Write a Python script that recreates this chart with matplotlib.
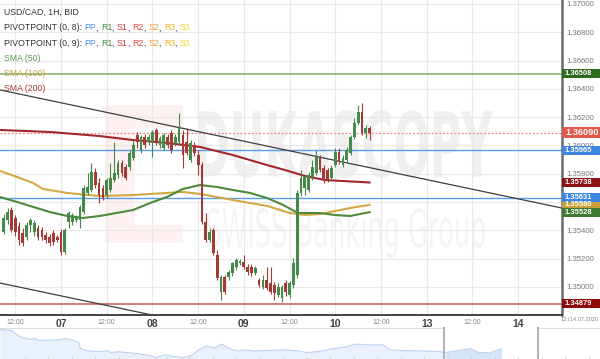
import numpy as np
import matplotlib
matplotlib.use("Agg")
import matplotlib.pyplot as plt
from matplotlib.patches import Rectangle, PathPatch
from matplotlib.textpath import TextPath
from matplotlib.font_manager import FontProperties
from matplotlib import transforms as mtrans

plt.rcParams['font.family'] = ['Liberation Sans', 'DejaVu Sans']

# ---------------------------------------------------------------- data
title = "USD/CAD, 1H, BID"
# candle times: hours relative to 07.07.2020 00:00 (weekend compressed)
candle_start_hour = -15

opens = [1.35388, 1.35473, 1.35543, 1.35487, 1.35430, 1.35381, 1.35352, 1.35437, 1.35388, 1.35416,
         1.35402, 1.35367, 1.35352, 1.35381, 1.35352, 1.35388, 1.35246, 1.35459, 1.35459, 1.35473,
         1.35473, 1.35529, 1.35664, 1.35685, 1.35812, 1.35734, 1.35699, 1.35649, 1.35685, 1.35755,
         1.35791, 1.35876, 1.35847, 1.35847, 1.35911, 1.36074, 1.35968, 1.36059, 1.36024, 1.36024,
         1.36109, 1.36003, 1.35982, 1.36059, 1.36088, 1.36017, 1.36024, 1.36074, 1.36024, 1.35897,
         1.36003, 1.35932, 1.35861, 1.35459, 1.35331, 1.35402, 1.35225, 1.34964, 1.35070, 1.35070,
         1.35098, 1.35140, 1.35169, 1.35176, 1.35140, 1.35140, 1.35098, 1.35048, 1.34999, 1.35048,
         1.35027, 1.35013, 1.34942, 1.34921, 1.35027, 1.34942, 1.35013, 1.35084, 1.35664, 1.35699,
         1.35685, 1.35777, 1.35805, 1.35911, 1.35840, 1.35826, 1.35770, 1.35861, 1.35953, 1.35861,
         1.35897, 1.35946, 1.36059, 1.36158, 1.36236, 1.36088, 1.36123]
highs = [1.35515, 1.35557, 1.35565, 1.35508, 1.35459, 1.35416, 1.35459, 1.35487, 1.35473, 1.35437,
         1.35423, 1.35388, 1.35374, 1.35402, 1.35367, 1.35409, 1.35416, 1.35536, 1.35522, 1.35508,
         1.35579, 1.35720, 1.35805, 1.35876, 1.35840, 1.35770, 1.35720, 1.35770, 1.35876, 1.36024,
         1.35897, 1.35897, 1.35869, 1.35968, 1.36038, 1.36095, 1.36074, 1.36081, 1.36081, 1.36109,
         1.36123, 1.36066, 1.36088, 1.36081, 1.36109, 1.36081, 1.36229, 1.36109, 1.36123, 1.36038,
         1.36024, 1.35968, 1.35883, 1.35522, 1.35416, 1.35416, 1.35260, 1.35084, 1.35084, 1.35119,
         1.35176, 1.35204, 1.35197, 1.35225, 1.35162, 1.35162, 1.35147, 1.35063, 1.35084, 1.35140,
         1.35140, 1.35034, 1.35027, 1.35013, 1.35048, 1.35041, 1.35204, 1.35685, 1.35826, 1.35791,
         1.35812, 1.35897, 1.35968, 1.35932, 1.35861, 1.35840, 1.35861, 1.35982, 1.35982, 1.35932,
         1.35989, 1.36074, 1.36194, 1.36286, 1.36300, 1.36144, 1.36137]
lows = [1.35374, 1.35444, 1.35388, 1.35359, 1.35296, 1.35289, 1.35331, 1.35388, 1.35359, 1.35331,
        1.35331, 1.35310, 1.35289, 1.35296, 1.35317, 1.35225, 1.35232, 1.35416, 1.35437, 1.35459,
        1.35416, 1.35515, 1.35649, 1.35671, 1.35699, 1.35593, 1.35614, 1.35628, 1.35671, 1.35741,
        1.35770, 1.35784, 1.35755, 1.35826, 1.35897, 1.35982, 1.35946, 1.35982, 1.36003, 1.35918,
        1.36003, 1.35982, 1.35968, 1.35982, 1.35946, 1.35996, 1.36010, 1.35840, 1.35932, 1.35883,
        1.35925, 1.35791, 1.35444, 1.35317, 1.35317, 1.35225, 1.35048, 1.34907, 1.34949, 1.35048,
        1.35077, 1.35119, 1.35154, 1.35126, 1.35084, 1.35077, 1.35084, 1.34999, 1.34985, 1.34978,
        1.34949, 1.34907, 1.34928, 1.34893, 1.34935, 1.34921, 1.34992, 1.35063, 1.35642, 1.35649,
        1.35671, 1.35755, 1.35791, 1.35812, 1.35734, 1.35741, 1.35755, 1.35847, 1.35869, 1.35847,
        1.35883, 1.35932, 1.36045, 1.36144, 1.36074, 1.36052, 1.36038]
closes = [1.35487, 1.35529, 1.35402, 1.35388, 1.35331, 1.35310, 1.35437, 1.35473, 1.35451, 1.35352,
          1.35352, 1.35331, 1.35310, 1.35317, 1.35331, 1.35246, 1.35402, 1.35522, 1.35508, 1.35494,
          1.35565, 1.35699, 1.35706, 1.35812, 1.35720, 1.35649, 1.35628, 1.35755, 1.35770, 1.35805,
          1.35876, 1.35805, 1.35770, 1.35946, 1.36003, 1.36024, 1.36059, 1.36003, 1.36059, 1.36095,
          1.36017, 1.36052, 1.36074, 1.36003, 1.35968, 1.36059, 1.36123, 1.35932, 1.35946, 1.36017,
          1.35946, 1.35861, 1.35459, 1.35331, 1.35388, 1.35239, 1.35063, 1.35070, 1.34964, 1.35105,
          1.35169, 1.35190, 1.35183, 1.35140, 1.35105, 1.35098, 1.35133, 1.35013, 1.35048, 1.34992,
          1.34964, 1.34957, 1.34999, 1.34999, 1.34964, 1.35027, 1.35169, 1.35664, 1.35770, 1.35777,
          1.35791, 1.35847, 1.35918, 1.35826, 1.35755, 1.35755, 1.35840, 1.35953, 1.35883, 1.35911,
          1.35968, 1.36059, 1.36158, 1.36236, 1.36088, 1.36123, 1.36090]

sma50_hours = [-16, -11.5, -7.3, -2.9, 1.6, 5.8, 10.2, 18.9, 23.4, 27.8, 32.0, 36.5, 40.9,
               45.1, 49.6, 54.1, 58.3, 62.2, 68.0, 71.9, 75.9, 81]
sma50 = [1.35635, 1.35600, 1.35565, 1.35529, 1.35501, 1.35487, 1.35501, 1.35543, 1.35593,
         1.35635, 1.35692, 1.35720, 1.35706, 1.35685, 1.35664, 1.35628, 1.35579, 1.35522,
         1.35522, 1.35508, 1.35501, 1.35528]
sma100_hours = [-16, -11.5, -7.3, -4.7, 1.6, 10.2, 18.9, 27.8, 32.0, 36.5, 45.1, 54.1, 60.1,
                64.0, 68.0, 71.9, 75.9, 81]
sma100 = [1.35819, 1.35777, 1.35734, 1.35692, 1.35664, 1.35642, 1.35649, 1.35664, 1.35671,
          1.35657, 1.35614, 1.35572, 1.35522, 1.35508, 1.35515, 1.35536, 1.35557, 1.35580]
sma200_hours = [-16, -2.9, 10.2, 18.9, 27.8, 36.5, 45.1, 54.1, 58.8, 64.0, 69.3, 81]
sma200 = [1.36109, 1.36095, 1.36066, 1.36038, 1.36017, 1.35989, 1.35932, 1.35861, 1.35826,
          1.35784, 1.35755, 1.35738]

upper_trend_hours = [-16, 131.5]
upper_trend_prices = [1.36392, 1.35557]
lower_trend_hours = [-16, 40]
lower_trend_prices = [1.35027, 1.34710]

level_r1 = 1.36508
level_last = 1.36090
level_pp_a = 1.35965
level_pp_b = 1.35631
level_s1 = 1.34879

price_ticks = [1.350, 1.352, 1.354, 1.356, 1.358, 1.360, 1.362, 1.364, 1.366, 1.368, 1.370]
time_ticks = [-12, 0, 12, 24, 36, 48, 60, 72, 84, 96, 108, 120]
time_labels = ["12:00", "07", "12:00", "08", "12:00", "09", "12:00", "10", "12:00", "13", "12:00", "14"]
date_label = "12:(14.07.2020"

nav_days = [0, 0.58, 0.96, 1.53, 1.72, 1.92, 2.49, 3.06, 3.26, 3.64, 3.93, 4.02, 4.40, 4.98, 5.36,
            5.55, 5.93, 6.32, 6.89, 7.47, 7.85, 8.23, 8.61, 9.19, 9.57, 9.95, 10.34, 10.72, 11.10,
            11.48, 11.87, 12.25, 12.63, 13.40, 14.16, 14.93, 15.31, 15.88, 16.65, 17.22, 17.80,
            18.37, 19.14, 19.52, 20.09, 21.05, 22.01, 22.29, 22.77, 23.54, 23.92, 24.50, 24.88, 25.07]
nav_close = [1.3684, 1.3675, 1.3630, 1.3606, 1.3615, 1.3600, 1.3600, 1.3606, 1.3615, 1.3600,
             1.3585, 1.3534, 1.3516, 1.3510, 1.3519, 1.3504, 1.3510, 1.3504, 1.3495, 1.3480,
             1.3465, 1.3486, 1.3474, 1.3465, 1.3480, 1.3525, 1.3555, 1.3540, 1.3570, 1.3534,
             1.3516, 1.3525, 1.3516, 1.3519, 1.3525, 1.3516, 1.3504, 1.3510, 1.3534, 1.3546,
             1.3570, 1.3564, 1.3564, 1.3525, 1.3519, 1.3516, 1.3510, 1.3504, 1.3516, 1.3534,
             1.3504, 1.3501, 1.3525, 1.3531]
nav_window = [22.2, 26.9]

# ---------------------------------------------------------------- style
GREEN = '#468a4a'
RED = '#a33a36'
W, H = 600, 359
fig = plt.figure(figsize=(W / 100, H / 100), dpi=100)
fig.patch.set_facecolor('white')

# ---------------------------------------------------------------- watermark (figure pixels)
def px_rect(x0, y0, x1, y1, color, z=-5):
    r = Rectangle((x0, H - y1), x1 - x0, y1 - y0, transform=mtrans.IdentityTransform(),
                  facecolor=color, edgecolor='none', zorder=z)
    fig.add_artist(r)

def fit_text(s, x0, y0, x1, y1, color, weight='bold'):
    fp = FontProperties(family='DejaVu Sans', weight=weight)
    tp = TextPath((0, 0), s, size=100, prop=fp)
    bb = tp.get_extents()
    tr = (mtrans.Affine2D().translate(-bb.x0, -bb.y0)
          .scale((x1 - x0) / bb.width, (y1 - y0) / bb.height)
          .translate(x0, H - y1))
    p = PathPatch(tp, transform=tr, facecolor=color, edgecolor='none', zorder=-4)
    fig.add_artist(p)

px_rect(105, 105, 183, 243, '#fdf1f1')
px_rect(135, 128, 183, 225, '#ffffff', z=-4.5)
fit_text("DUKASCOPY", 198, 110, 493, 178, '#f0f0f0')
fit_text("SWISS Banking Group", 207, 207, 485, 258, '#f4f4f4', weight='normal')

# ---------------------------------------------------------------- main axes
ax = fig.add_axes([0, (H - 315) / H, 562 / W, 315 / H])
ax.set_facecolor('none')
ax.set_xlim(-16.0, 131.5)
ax.set_ylim(1.34801, 1.37028)

for s in ['left', 'top']:
    ax.spines[s].set_visible(False)
ax.spines['right'].set_color('#6a6a6a')
ax.spines['right'].set_linewidth(1.8)
ax.spines['bottom'].set_color('#444444')
ax.spines['bottom'].set_linewidth(1.4)

ax.yaxis.tick_right()
ax.set_yticks(price_ticks)
ax.set_yticklabels([f"{p:.5f}" for p in price_ticks])
ax.tick_params(axis='y', length=0, pad=3, labelsize=5.6, labelcolor='#777777')
ax.set_xticks(time_ticks)
ax.set_xticklabels(time_labels)
ax.tick_params(axis='x', length=0, pad=3)
for lbl in ax.get_xticklabels():
    if lbl.get_text() == "12:00":
        lbl.set_fontsize(5.0)
        lbl.set_color('#888888')
    else:
        lbl.set_fontsize(7.5)
        lbl.set_color('#444444')
        lbl.set_fontweight('bold')
ax.grid(True, color='#e9e9e9', lw=0.8, zorder=0)
ax.set_axisbelow(True)

# level lines
ax.axhline(level_r1, color='#86b47a', lw=1.2, zorder=2)
ax.axhline(level_pp_a, color='#5b9ce8', lw=1.0, zorder=2)
ax.axhline(level_pp_b, color='#5b9ce8', lw=1.0, zorder=2)
ax.axhline(level_s1, color='#d27a7a', lw=1.4, zorder=2)
ax.axhline(level_last, color='#e98a8a', lw=0.9, ls=(0, (1.5, 1.5)), zorder=2)

# trend lines
ax.plot(upper_trend_hours, upper_trend_prices, color='#3f3f3f', lw=0.9, zorder=3)
ax.plot(lower_trend_hours, lower_trend_prices, color='#3f3f3f', lw=0.9, zorder=3)

# moving averages
ax.plot(sma200_hours, sma200, color='#a3272a', lw=1.5, zorder=3)
ax.plot(sma100_hours, sma100, color='#d4a845', lw=1.5, zorder=3)
ax.plot(sma50_hours, sma50, color='#4d8a3c', lw=1.5, zorder=3)

# candles
o = np.array(opens); c = np.array(closes); hi = np.array(highs); lo = np.array(lows)
xc = candle_start_hour + np.arange(len(c))
cols = np.where(c >= o, GREEN, RED)
ax.vlines(xc, lo, hi, colors=cols, lw=0.8, zorder=4)
ax.bar(xc, c - o, bottom=o, width=0.72, color=cols, linewidth=0, zorder=5)

# right price boxes
blend = mtrans.blended_transform_factory(ax.transAxes, ax.transData)
ppx = (1.37028 - 1.34801) / 315.0

def price_box(price, color, hpx=9, size=5.4):
    hp = hpx * ppx
    ax.add_patch(Rectangle((1.0, price - hp / 2), 38 / 562, hp, transform=blend,
                           facecolor=color, edgecolor='none', clip_on=False, zorder=10))
    ax.text(1.0 + 3 / 562, price, f"{price:.5f}", transform=blend, ha='left', va='center',
            color='white', fontsize=size, fontweight='bold', clip_on=False, zorder=11)

price_box(sma100[-1], '#c9a03a')
price_box(level_r1, '#2f6b1f')
price_box(level_last, '#e0594b', hpx=11, size=6.6)
price_box(level_pp_a, '#3d86e0')
price_box(sma200[-1], '#8b1414')
price_box(level_pp_b, '#3d86e0')
price_box(sma50[-1], '#3f7a30')
price_box(level_s1, '#8b0a0a')

fig.text(599 / W, 1 - 320 / H, date_label, fontsize=4.1, color='#888888',
         ha='right', va='center')

# ---------------------------------------------------------------- legend text
renderer = fig.canvas.get_renderer()

def pieces(x, y, parts, size=6.3):
    for txt, col in parts:
        t = fig.text(x / W, 1 - y / H, txt, color=col, fontsize=size, ha='left', va='center',
                     zorder=20)
        x += t.get_window_extent(renderer).width

TXT = '#333333'
pivot_cols = [('PP', '#4a90e8'), ('R1', '#3c8c3c'), ('S1', '#c83c3c'), ('R2', '#e04848'),
              ('S2', '#f0963c'), ('R3', '#f0b428'), ('S3', '#efe02a')]
pieces(4, 12.5, [(title, TXT)])
for row, lab in [(28, "PIVOTPOINT (0, 8): "), (43.5, "PIVOTPOINT (0, 9): ")]:
    parts = [(lab, TXT)]
    for k, (nm, col) in enumerate(pivot_cols):
        parts.append((nm, col))
        if k < len(pivot_cols) - 1:
            parts.append((", ", TXT))
    pieces(4, row, parts)
pieces(4, 58.5, [("SMA (50)", '#5a9a50')])
pieces(4, 73.5, [("SMA (100)", '#c8a040')])
pieces(4, 88.5, [("SMA (200)", '#a83a3a')])

# ---------------------------------------------------------------- navigator
nav = fig.add_axes([0, 0, 1, 32 / H])
nav.set_xlim(0, 30)
nav.set_ylim(1.3453, 1.3704)
nav.axis('off')
nx = np.array(nav_days); ny = np.array(nav_close)
nav.fill_between(nx, 1.3453, ny, color='#eaf1fc', lw=0)
sel = nx >= nav_window[0]
nav.fill_between(nx[sel], 1.3453, ny[sel], color='#d6e4f8', lw=0)
nav.plot(nx, ny, color='#bcd2f2', lw=0.8)
nav.plot([0, nav_window[0]], [1.3697, 1.3697], color='#dddddd', lw=0.8)
nav.plot([nav_window[1], 30], [1.3697, 1.3697], color='#dddddd', lw=0.8)
for d in nav_window:
    nav.axvline(d, color='#b4b4b4', lw=1.5)
for d in np.arange(1.245, 30, 1.175):
    nav.plot([d, d], [1.3453, 1.3470], color='#d0d0d0', lw=0.6)

fig.savefig("out.png", dpi=100, facecolor='white')
